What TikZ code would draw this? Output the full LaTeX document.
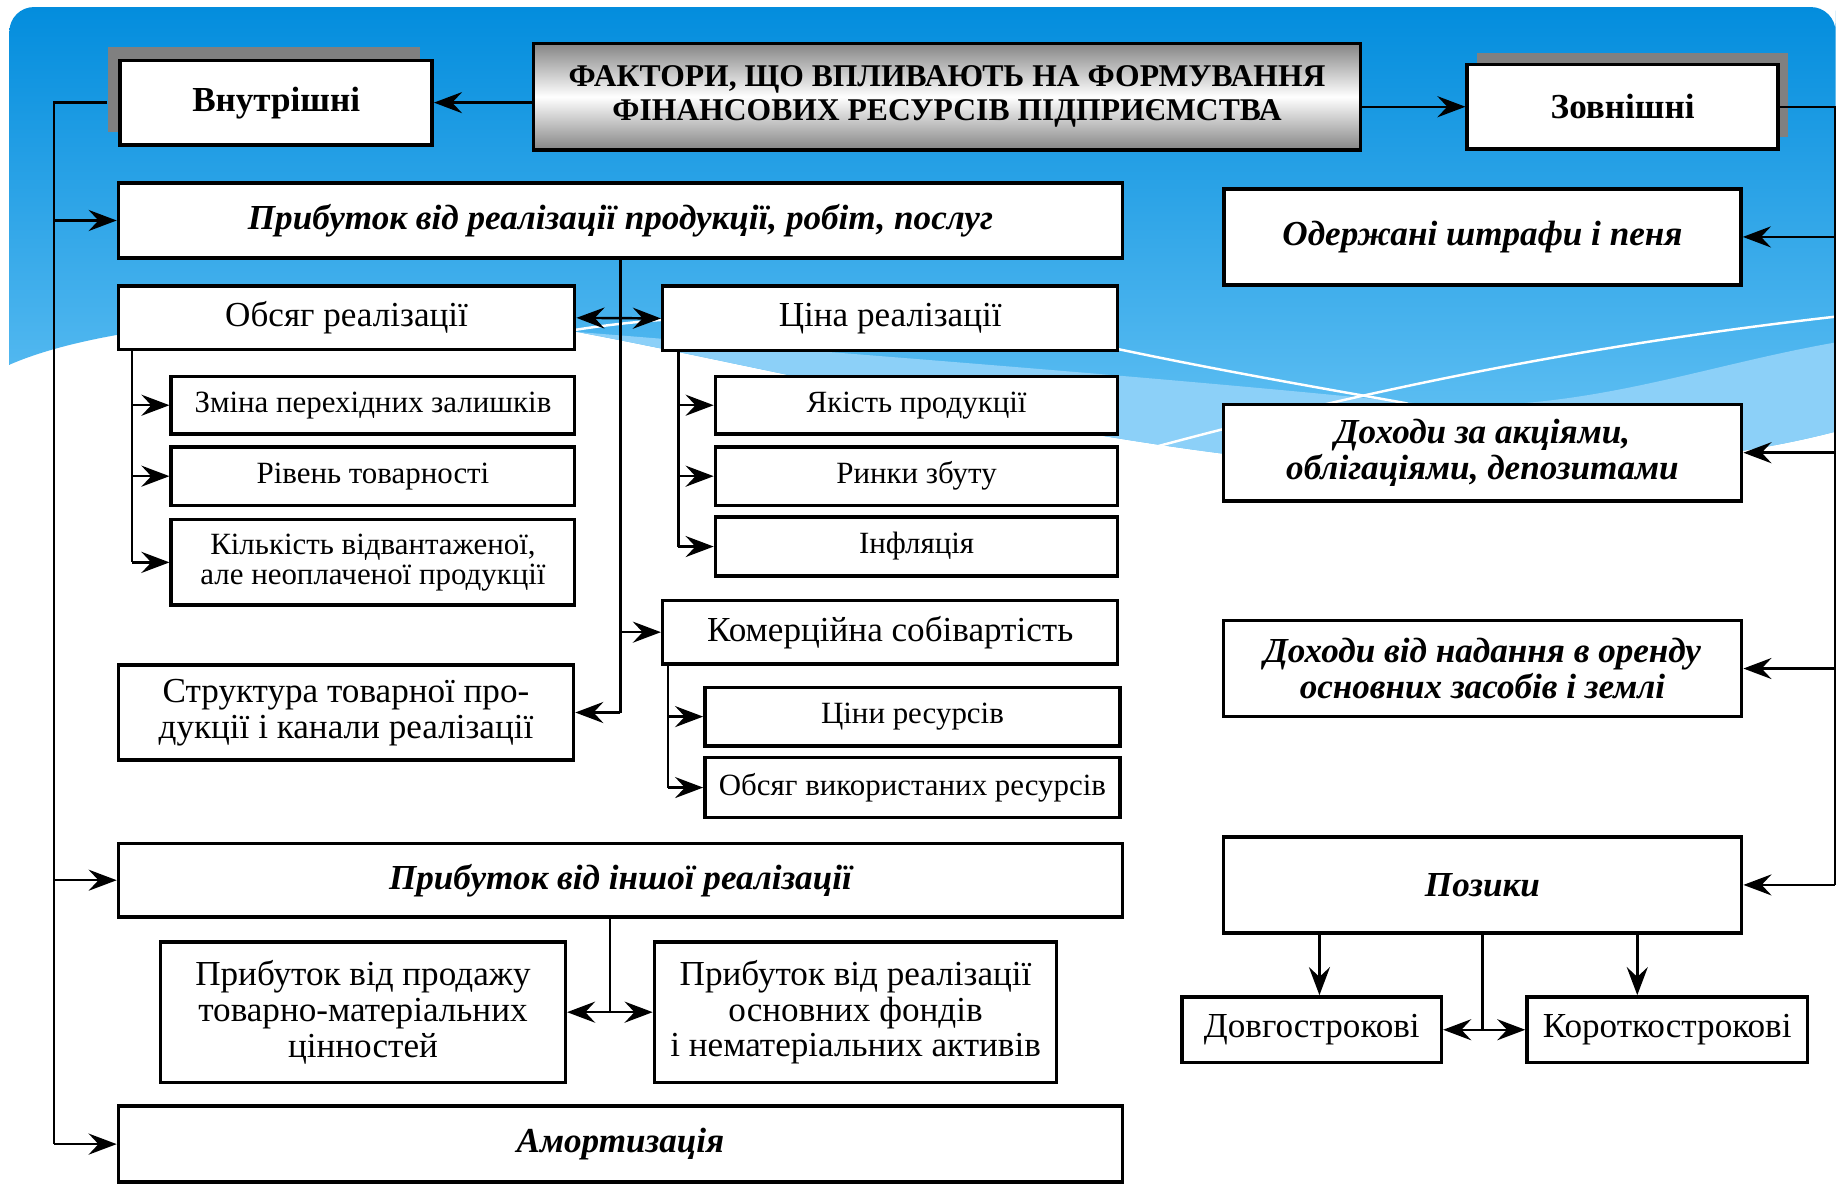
\documentclass[tikz,border=0pt]{standalone}
\usepackage{fontspec}
\setmainfont{Liberation Serif}
\usetikzlibrary{arrows.meta,positioning,shadows}
\definecolor{skytop}{RGB}{3,141,221}
\definecolor{skybottom}{RGB}{104,196,245}
\definecolor{skyband}{RGB}{140,208,248}
\definecolor{shadowgray}{RGB}{128,128,128}
\tikzset{
  box/.style={draw=black,line width=1pt,fill=white,inner sep=0pt,align=center},
  wh/.style 2 args={minimum width=#1*0.01173cm,minimum height=#2*0.01173cm},
  titlebox/.style={box,top color=black!48,bottom color=black!48,middle color=white,
    font=\fontsize{9}{9.7}\selectfont\bfseries},
  sidebox/.style={box,font=\fontsize{10}{10}\selectfont\bfseries},
  mainbox/.style={box,font=\fontsize{10}{10.3}\selectfont\bfseries\itshape},
  midbox/.style={box,font=\fontsize{10}{10.2}\selectfont},
  smallbox/.style={box,font=\fontsize{8.8}{8.7}\selectfont},
  lshadow/.style={drop shadow={shadow xshift=-3.4pt,shadow yshift=3.7pt,fill=shadowgray,opacity=1}},
  rshadow/.style={drop shadow={shadow xshift=2.7pt,shadow yshift=3.4pt,fill=shadowgray,opacity=1}},
  wire/.style={line width=0.7pt},
  link/.style={wire,-{Stealth[length=8pt,width=6pt,inset=2.8pt]}},
  dlink/.style={wire,{Stealth[length=8pt,width=6pt,inset=2.8pt]}-{Stealth[length=8pt,width=6pt,inset=2.8pt]}},
}

\begin{document}
\begin{tikzpicture}[x=0.01173cm,y=-0.01173cm]
\useasboundingbox[fill=white] (0,0) rectangle (1568,1009);
% sky background
\shade[top color=skytop,bottom color=skybottom] (8,311) -- (8,30) [rounded corners=7pt] -- (8,6) -- (1565,6) -- (1565,30) [sharp corners] -- (1565,368)
  .. controls (1500,385) and (1400,401) .. (1236,401) .. controls (1000,400) and (700,322) .. (492,283)
  .. controls (380,262) and (120,262) .. (8,311) -- cycle;
\fill[skyband] (492,283) .. controls (700,300) and (1000,322) .. (1219,345) .. controls (1350,352) and (1450,312) .. (1565,292)
  -- (1565,368) .. controls (1500,385) and (1400,401) .. (1236,401) .. controls (1000,400) and (700,322) .. (492,283) -- cycle;
\draw[white,line width=0.7pt] (480,283) .. controls (600,262) and (800,262) .. (955,298) .. controls (1050,318) and (1150,335) .. (1200,344);
\draw[white,line width=0.7pt] (974,384) .. controls (1100,350) and (1300,300) .. (1565,270);

% title and the two groups
\node (title) [titlebox,wh={705}{91}] at (807.5,82.5) {ФАКТОРИ, ЩО ВПЛИВАЮТЬ НА ФОРМУВАННЯ\\ФІНАНСОВИХ РЕСУРСІВ ПІДПРИЄМСТВА};
\node (vn) [sidebox,lshadow,wh={266}{72}] at (235.5,87.5) {Внутрішні};
\node (zn) [sidebox,rshadow,wh={265}{72}] at (1383.5,91) {Зовнішні};

% internal factors
\node (pr1) [mainbox,wh={856}{64}] at (529,188) {Прибуток від реалізації продукції, робіт, послуг};
\node (obs) [midbox,wh={389}{54}] at (295.5,271) {Обсяг реалізації};
\node (cina) [midbox,wh={388}{55}] at (759,271.5) {Ціна реалізації};
\node (zm) [smallbox,wh={344}{49}] at (318,345.5) {Зміна перехідних залишків};
\node (rv) [smallbox,wh={344}{50}] at (318,406) {Рівень товарності};
\node (kl) [smallbox,wh={344}{73}] at (318,479.5) {Кількість відвантаженої,\\але неоплаченої продукції};
\node (yak) [smallbox,wh={343}{49}] at (781.5,345.5) {Якість продукції};
\node (rn) [smallbox,wh={343}{50}] at (781.5,406) {Ринки збуту};
\node (inf) [smallbox,wh={343}{50}] at (781.5,466) {Інфляція};
\node (kom) [midbox,wh={388}{54}] at (759,539) {Комерційна собівартість};
\node (cr) [smallbox,wh={354}{50}] at (778,611) {Ціни ресурсів};
\node (ov) [smallbox,wh={354}{51}] at (778,671.5) {Обсяг використаних ресурсів};
\node (str) [midbox,wh={388}{81}] at (295,607.5) {Структура товарної про-\\дукції і канали реалізації};
\node (pr2) [mainbox,wh={856}{63}] at (529,750.5) {Прибуток від іншої реалізації};
\node (pp) [midbox,wh={345}{120}] at (309.5,863) {Прибуток від продажу\\товарно-матеріальних\\цінностей};
\node (pf) [midbox,wh={343}{120}] at (729.5,863) {Прибуток від реалізації\\основних фондів\\і нематеріальних активів};
\node (am) [mainbox,wh={856}{65}] at (529,975.5) {Амортизація};

% external factors
\node (od) [mainbox,wh={441}{82}] at (1264,202) {Одержані штрафи і пеня};
\node (dak) [mainbox,wh={442}{82}] at (1264,386) {Доходи за акціями,\\облігаціями, депозитами};
\node (dnr) [mainbox,wh={442}{82}] at (1264,570) {Доходи від надання в оренду\\основних засобів і землі};
\node (poz) [mainbox,wh={442}{82}] at (1264,754.5) {Позики};
\node (dov) [midbox,wh={221}{56}] at (1118.5,878) {Довгострокові};
\node (kor) [midbox,wh={239}{56}] at (1421.5,878) {Короткострокові};

% connectors
\draw[link] (title.west |- vn.east) -- (vn.east);
\draw[link] (title.east |- zn.west) -- (zn.west);
\draw[wire] ([xshift=-3.4pt]vn.west) -- ++(-45,0) coordinate (lt) -- (lt |- am.west);
\foreach \n in {pr1,pr2,am} \draw[link] (lt |- \n.west) -- (\n.west);
\draw[wire] (zn.east) -- ++(47,0) coordinate (rt) -- (rt |- poz.east);
\foreach \n in {od,dak,dnr,poz} \draw[link] (rt |- \n.east) -- (\n.east);

\draw[wire] (pr1.south) -- (pr1.south |- str.east);
\draw[dlink] (obs.east) -- (cina.west);
\draw[link] (pr1.south |- kom.west) -- (kom.west);
\draw[link] (pr1.south |- str.east) -- (str.east);
\draw[wire] (obs.south west) ++(13,0) coordinate (s1) -- (s1 |- kl.west);
\foreach \n in {zm,rv,kl} \draw[link] (s1 |- \n.west) -- (\n.west);
\draw[wire] (cina.south west) ++(15,0) coordinate (s2) -- (s2 |- inf.west);
\foreach \n in {yak,rn,inf} \draw[link] (s2 |- \n.west) -- (\n.west);
\draw[wire] (kom.south west) ++(6,0) coordinate (s3) -- (s3 |- ov.west);
\foreach \n in {cr,ov} \draw[link] (s3 |- \n.west) -- (\n.west);

\draw[wire] (pr2.south) ++(-9,0) coordinate (s4) -- (s4 |- pp.east);
\draw[link] (s4 |- pp.east) -- (pp.east);
\draw[link] (s4 |- pf.west) -- (pf.west);

\draw[wire] (poz.south) -- (poz.south |- dov.east);
\draw[link] (poz.south |- dov.east) -- (dov.east);
\draw[link] (poz.south |- kor.west) -- (kor.west);
\path (poz.south) ++(-139,0) coordinate (pd) ++(271,0) coordinate (pk);
\draw[link] (pd) -- (pd |- dov.north);
\draw[link] (pk) -- (pk |- kor.north);
\end{tikzpicture}
\end{document}
